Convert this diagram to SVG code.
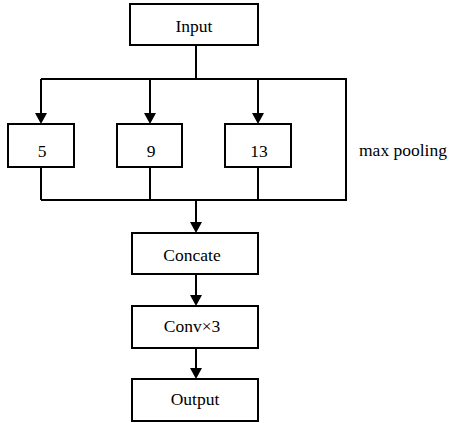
<svg xmlns="http://www.w3.org/2000/svg" width="451" height="423" viewBox="0 0 451 423">
<style>
.b{fill:#fff;stroke:#000;stroke-width:2}
.t{font-family:'Liberation Serif',serif;font-size:17.5px;fill:#000;text-anchor:middle}
.c{fill:none;stroke:#000;stroke-width:2}
.h{fill:#000}
</style>
<rect width="451" height="423" fill="#fff"/>
<g id="connectors">
<path class="c" d="M196,45 V79"/>
<path class="c" d="M41,79 H346 V200 H41"/>
<path class="c" d="M41,79 V114"/>
<path class="c" d="M150,79 V114"/>
<path class="c" d="M258,79 V114"/>
<path class="h" d="M35,113 L47,113 L41,124 z"/>
<path class="h" d="M144,113 L156,113 L150,124 z"/>
<path class="h" d="M252,113 L264,113 L258,124 z"/>
<path class="c" d="M41,167 V200"/>
<path class="c" d="M150,167 V200"/>
<path class="c" d="M258,167 V200"/>
<path class="c" d="M196,200 V223"/>
<path class="h" d="M190,222 L202,222 L196,233 z"/>
<path class="c" d="M196,274 V296"/>
<path class="h" d="M190,295 L202,295 L196,306 z"/>
<path class="c" d="M196,348 V369"/>
<path class="h" d="M190,368 L202,368 L196,379 z"/>
</g>
<g id="input"><rect class="b" x="130" y="4" width="128" height="41"/><text class="t" font-family="Liberation Serif" x="194" y="32">Input</text></g>
<g id="p5"><rect class="b" x="8" y="124" width="66" height="43"/><text class="t" font-family="Liberation Serif" x="42" y="157">5</text></g>
<g id="p9"><rect class="b" x="117" y="124" width="65" height="43"/><text class="t" font-family="Liberation Serif" x="151" y="157">9</text></g>
<g id="p13"><rect class="b" x="225" y="124" width="66" height="43"/><text class="t" font-family="Liberation Serif" x="259" y="157">13</text></g>
<g id="label"><text class="t" font-family="Liberation Serif" x="403" y="156">max pooling</text></g>
<g id="concate"><rect class="b" x="132" y="233" width="126" height="41"/><text class="t" font-family="Liberation Serif" x="192" y="261">Concate</text></g>
<g id="conv"><rect class="b" x="132" y="306" width="126" height="42"/><text class="t" font-family="Liberation Serif" x="192" y="332">Conv&#215;3</text></g>
<g id="output"><rect class="b" x="132" y="379" width="126" height="42"/><text class="t" font-family="Liberation Serif" x="195" y="405">Output</text></g>
</svg>
